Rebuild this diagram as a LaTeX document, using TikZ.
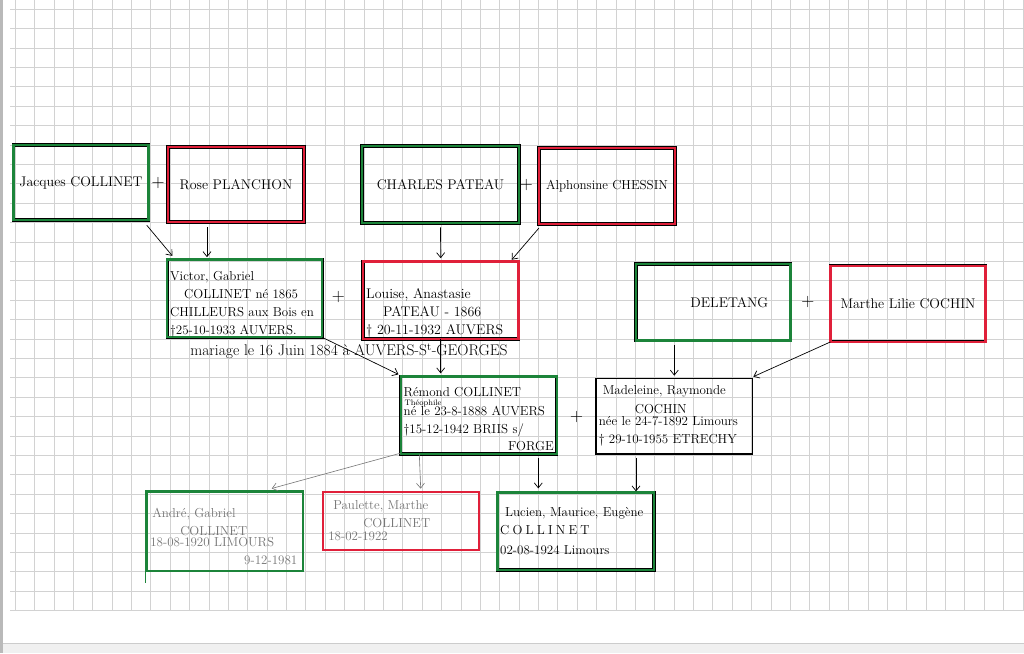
\documentclass[tikz,border=0pt]{standalone}
\usepackage{fontspec}
\usepackage{tikz}
\usetikzlibrary{shapes, arrows, arrows.meta, positioning}
\definecolor{vert}{RGB}{28,132,58}
\definecolor{rouge}{RGB}{224,32,58}
\definecolor{crayon}{RGB}{118,118,118}
\tikzstyle{homme} = [draw=black, line width=0.5pt, double=vert, double distance=2.4pt, rectangle, align=left, inner xsep=3pt]
\tikzstyle{femme} = [draw=black, line width=0.5pt, double=rouge, double distance=2.4pt, rectangle, align=left, inner xsep=3pt]
\tikzstyle{nom} = [font=\fontsize{14}{17}\selectfont]
\tikzstyle{ecrit} = [font=\fontsize{13}{18}\selectfont]
\tikzstyle{signe} = [font=\fontsize{18}{18}\selectfont, inner sep=0pt]
\tikzstyle{fleche} = [-{Straight Barb[length=5pt,width=8pt]}, line width=0.7pt]
\tikzstyle{lien} = [fleche, draw=crayon, line width=0.6pt]
\tikzstyle{quadrillage} = [draw=gray!35, line width=0.45pt]
\newcommand{\espace}{\kern3.2pt}

\begin{document}
\begin{tikzpicture}[x=1pt, y=-1pt]
	% papier
	\fill[white] (0,0) rectangle (1024,653);
	\useasboundingbox (0,0) rectangle (1024,653);
	\fill[gray!12] (0,643) rectangle (1024,653);
	\draw[gray!40, line width=0.8pt] (0,643) -- (1024,643);
	\fill[gray!55] (0,0) rectangle (2.5,653);
	\foreach \i in {0,...,52}
		\draw[quadrillage] ({15+19.38*\i},0) -- ({15+19.38*\i},610);
	\foreach \j in {0,...,31}
		\draw[quadrillage] (10,{9+19.4*\j}) -- (1024,{9+19.4*\j});

	% grands-parents
	\node[homme, nom, minimum width=135pt, minimum height=75pt] (jacques) at (81,182.5) {Jacques COLLINET};
	\node[femme, nom, minimum width=136pt, minimum height=75pt] (rose) at (236,184.5) {Rose PLANCHON};
	\node[homme, nom, minimum width=157pt, minimum height=77pt] (charles) at (440.5,184.5) {CHARLES PATEAU};
	\node[femme, font=\fontsize{13}{17}\selectfont, minimum width=136pt, minimum height=76pt, inner xsep=1pt] (alphonsine) at (607,186) {Alphonsine CHESSIN};
	\node[signe] (plusA) at (158,183.3) {+};
	\node[signe] (plusB) at (526.3,185) {+};

	% parents
	\node[homme, ecrit, text width=149pt, minimum width=155pt, minimum height=77pt, inner ysep=0pt] (victor) at (244.7,298.3) {\rule{0pt}{21pt}Victor, Gabriel\\ \hspace*{14pt}COLLINET né 1865\\ CHILLEURS aux Bois en\\ \textdagger25-10-1933 AUVERS.};
	\node[femme, font=\fontsize{14}{18}\selectfont, text width=149pt, minimum width=155.5pt, minimum height=77.5pt, inner ysep=0pt] (louise) at (440.7,300.2) {\rule{0pt}{36pt}Louise, Anastasie\\ \hspace*{17pt}PATEAU - 1866\\ \textdagger\ 20-11-1932 AUVERS};
	\node[signe] (plusC) at (338.3,296.7) {+};
	\node[homme, nom, minimum width=154.7pt, minimum height=76.7pt] (deletang) at (713.3,302.3) {\hspace*{32pt}DELETANG};
	\node[femme, nom, minimum width=154.7pt, minimum height=76pt] (marthe) at (908,303.7) {Marthe Lilie COCHIN};
	\node[signe] (plusD) at (807.9,301.7) {+};
	\node[font=\fontsize{15.5}{18}\selectfont] (mariage) at (349,351) {mariage le 16 Juin 1884 à AUVERS-S\textsuperscript{t}-GEORGES};

	% couple
	\node[homme, font=\fontsize{13}{17}\selectfont, text width=150pt, minimum width=156pt, minimum height=77.3pt, inner ysep=0pt] (remond) at (478.7,415.3) {\rule{0pt}{17pt}Rémond COLLINET\\[-8pt] {\fontsize{8}{8}\selectfont\hspace*{1pt}Théophile}\\[-7pt] né le 23-8-1888 AUVERS\\[1pt] \textdagger15-12-1942 BRIIS s/\\ \hfill FORGE\hspace*{6pt}};
	\node[draw=black, line width=1.4pt, rectangle, align=left, ecrit, text width=151pt, minimum width=156.7pt, minimum height=75.7pt, inner xsep=2pt] (madeleine) at (674.3,416.2) {\hspace*{4pt}Madeleine, Raymonde\\[1pt] \hspace*{36pt}COCHIN\\[-6pt] née le 24-7-1892 Limours\\ \textdagger\ 29-10-1955 ETRECHY};
	\node[signe] (plusE) at (576.7,416.7) {+};

	% enfants
	\node[draw=vert, line width=2.4pt, rectangle, align=left, ecrit, text=crayon, text width=149pt, minimum width=156.5pt, minimum height=79.3pt, inner xsep=3pt, inner ysep=0pt] (andre) at (224.8,531.3) {\rule{0pt}{19pt}\hspace*{2pt}André, Gabriel\\ \hspace*{30pt}COLLINET\\[-7pt] 18-08-1920 LIMOURS\\ \hfill 9-12-1981\hspace*{2pt}};
	\node[draw=rouge, line width=2pt, rectangle, align=left, ecrit, text=crayon, text width=146pt, minimum width=156pt, minimum height=58.3pt, inner xsep=5pt] (paulette) at (401.3,520.8) {\hspace*{5pt}Paulette, Marthe\\ \hspace*{35pt}COLLINET\\[-5pt] 18-02-1922};
	\node[homme, ecrit, text width=151pt, minimum width=156.7pt, minimum height=77.3pt, inner xsep=2pt] (lucien) at (575.7,531.3) {\hspace*{5pt}Lucien, Maurice, Eugène\\ C\espace O\espace L\espace L\espace I\espace N\espace E\espace T\\[2pt] 02-08-1924 Limours};
	\draw[vert, line width=1.5pt] (andre.south west) -- ++(0,11);

	% filiations
	\draw[fleche] ([shift={(-2pt,-5pt)}]jacques.south east) -- ([shift={(5.4pt,3.3pt)}]victor.north west);
	\draw[fleche] ([xshift=-29pt,yshift=-5pt]rose.south) -- ([xshift=-29pt,yshift=2pt]rose.south |- victor.north);
	\draw[fleche] ([yshift=-4pt]charles.south) -- ([yshift=3pt]louise.north);
	\draw[fleche] ([yshift=-4pt]alphonsine.south west) -- ([shift={(-7pt,1.5pt)}]louise.north east);
	\draw[fleche] (victor.south east) -- ([shift={(-2pt,2pt)}]remond.north west);
	\draw[fleche] (louise.south) -- ([yshift=3pt]louise.south |- remond.north);
	\draw[fleche] ([yshift=-4pt]deletang.south -| madeleine.north) -- ([yshift=2pt]madeleine.north);
	\draw[fleche] (marthe.south west) -- ([yshift=1pt]madeleine.north east);
	\draw[lien] ([yshift=1pt]remond.south west) -- ([shift={(47pt,2pt)}]andre.north);
	\draw[lien] ([xshift=-59.4pt]remond.south) -- ([xshift=19.4pt,yshift=2pt]paulette.north);
	\draw[fleche] ([xshift=59.6pt,yshift=-4pt]remond.south) -- ([xshift=-37.4pt,yshift=4pt]lucien.north);
	\draw[fleche] ([xshift=-38.3pt,yshift=-3pt]madeleine.south) -- ([xshift=-38.3pt,yshift=1pt]madeleine.south |- lucien.north);
\end{tikzpicture}
\end{document}
